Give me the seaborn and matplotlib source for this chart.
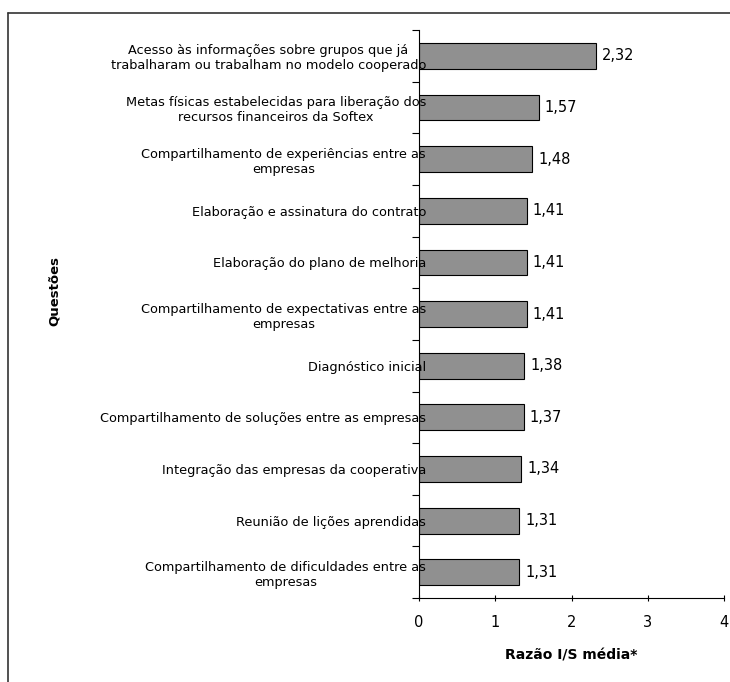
import matplotlib
matplotlib.use("Agg")
import matplotlib.pyplot as plt
from matplotlib.lines import Line2D
import seaborn as sns
import pandas as pd
import numpy as np

categories = [
    "Acesso às informações sobre grupos que já\ntrabalharam ou trabalham no modelo cooperado",
    "Metas físicas estabelecidas para liberação dos\nrecursos financeiros da Softex",
    "Compartilhamento de experiências entre as\nempresas",
    "Elaboração e assinatura do contrato",
    "Elaboração do plano de melhoria",
    "Compartilhamento de expectativas entre as\nempresas",
    "Diagnóstico inicial",
    "Compartilhamento de soluções entre as empresas",
    "Integração das empresas da cooperativa",
    "Reunião de lições aprendidas",
    "Compartilhamento de dificuldades entre as\nempresas",
]
values = [2.32, 1.57, 1.48, 1.41, 1.41, 1.41, 1.38, 1.37, 1.34, 1.31, 1.31]
value_labels = ["2,32", "1,57", "1,48", "1,41", "1,41", "1,41", "1,38", "1,37", "1,34", "1,31", "1,31"]
x_ticks = [0, 1, 2, 3, 4]

sns.set_style("white")
plt.rcParams['font.family'] = ['DejaVu Sans']
plt.rcParams['text.color'] = 'black'
plt.rcParams['axes.labelcolor'] = 'black'
plt.rcParams['xtick.color'] = 'black'
plt.rcParams['ytick.color'] = 'black'

df = pd.DataFrame({"Questões": categories, "Razão": values})

fig = plt.figure(figsize=(7.30, 6.82), dpi=100)
ax = fig.add_axes([0.574, 0.123, 0.418, 0.833])

sns.barplot(data=df, y="Questões", x="Razão", orient="h", color="#909090",
            saturation=1, edgecolor="black", linewidth=0.8, width=0.5, ax=ax)
ax.set_axisbelow(False)

ax.set_xlim(0, 4)
ax.set_ylim(len(categories) - 0.5, -0.5)
ax.set_xticks(x_ticks)
ax.set_xticklabels([str(t) for t in x_ticks], fontsize=10.5)

# category boundary ticks
ax.set_yticks(np.arange(len(categories) + 1) - 0.5, minor=True)
ax.tick_params(axis="y", which="minor", length=5, width=0.8, direction="out", left=True)
ax.tick_params(axis="y", which="major", length=0, pad=-5)
ax.tick_params(axis="x", which="major", length=5, width=0.8, direction="inout", bottom=True, pad=10)
for lbl in ax.get_yticklabels():
    lbl.set_multialignment("center")
    lbl.set_fontsize(9.3)
    lbl.set_zorder(5)

for i, (v, s) in enumerate(zip(values, value_labels)):
    ax.text(v + 0.08, i, s, va="center", ha="left", fontsize=10.5)

sns.despine(ax=ax, top=True, right=True)
for sp in ["left", "bottom"]:
    ax.spines[sp].set_color("black")
    ax.spines[sp].set_linewidth(0.8)

ax.set_xlabel("Razão I/S média*", fontsize=10, fontweight="bold", labelpad=13)
ax.set_ylabel("")
fig.text(0.075, 0.573, "Questões", rotation=90, fontsize=9.5, fontweight="bold",
         ha="center", va="center")

# figure frame (left and top edges)
fig.add_artist(Line2D([8/730, 8/730], [0, 1 - 13/682], transform=fig.transFigure,
                      color="#333333", linewidth=1.2))
fig.add_artist(Line2D([8/730, 1], [1 - 13/682, 1 - 13/682], transform=fig.transFigure,
                      color="#333333", linewidth=1.2))

fig.savefig("out.png", dpi=100)
